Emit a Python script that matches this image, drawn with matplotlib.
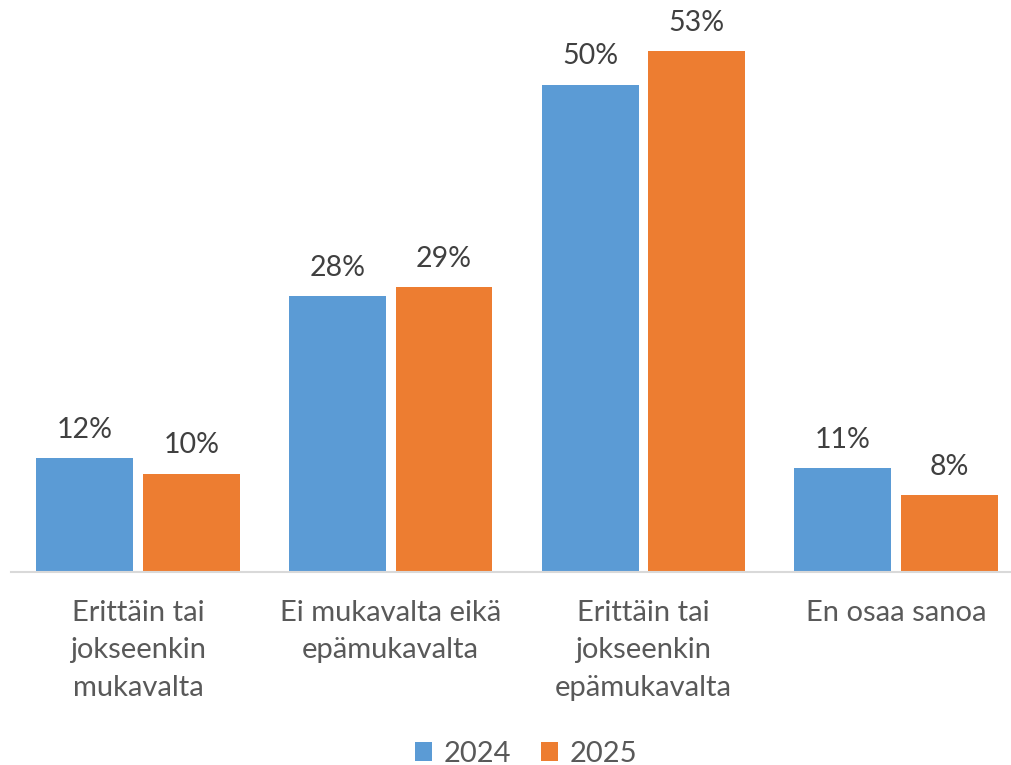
import matplotlib.pyplot as plt
import numpy as np

# Data
categories = ['Erittäin tai\njokseenkin\nmukavalta', 'Ei mukavalta eikä\nepämukavalta',
              'Erittäin tai\njokseenkin\nepämukavalta', 'En osaa sanoa']
years = ['2024', '2025']
values_2024 = [11.6, 28.1, 49.6, 10.6]
values_2025 = [10.0, 29.0, 53.0, 7.8]
colors = ['#5B9BD5', '#ED7D31']

plt.rcParams['font.family'] = ['Lato', 'DejaVu Sans']

fig = plt.figure(figsize=(10.12, 7.65), dpi=100)
ax = fig.add_axes([11 / 1012, 193 / 765, 1 - 11 / 1012, 572 / 765])

x = np.arange(len(categories))
w = 0.383
off = 0.211
b1 = ax.bar(x - off, values_2024, w, color=colors[0], label=years[0])
b2 = ax.bar(x + off, values_2025, w, color=colors[1], label=years[1])

for bars in (b1, b2):
    for b in bars:
        ax.annotate(f'{b.get_height():.0f}%', (b.get_x() + b.get_width() / 2, b.get_height()),
                    xytext=(0, 11), textcoords='offset points', ha='center', va='bottom',
                    fontsize=20.5, color='#404040')

ax.set_xlim(-0.502, 3.458)
ax.set_ylim(0, 58.2)
ax.set_yticks([])
ax.set_xticks(x)
ax.set_xticklabels(categories, fontsize=21, color='#595959', linespacing=1.55, va='top')
ax.tick_params(axis='x', length=0, pad=20)
for s in ['top', 'right', 'left']:
    ax.spines[s].set_visible(False)
ax.spines['bottom'].set_color('#D9D9D9')
ax.spines['bottom'].set_linewidth(1.5)

fig.legend(loc='center', bbox_to_anchor=(0.52, 1 - 754 / 765), ncol=2, frameon=False,
           fontsize=21, labelcolor='#595959', handlelength=0.6, handleheight=0.6,
           handletextpad=0.4, columnspacing=1.0)

plt.savefig('out.png', dpi=100)
